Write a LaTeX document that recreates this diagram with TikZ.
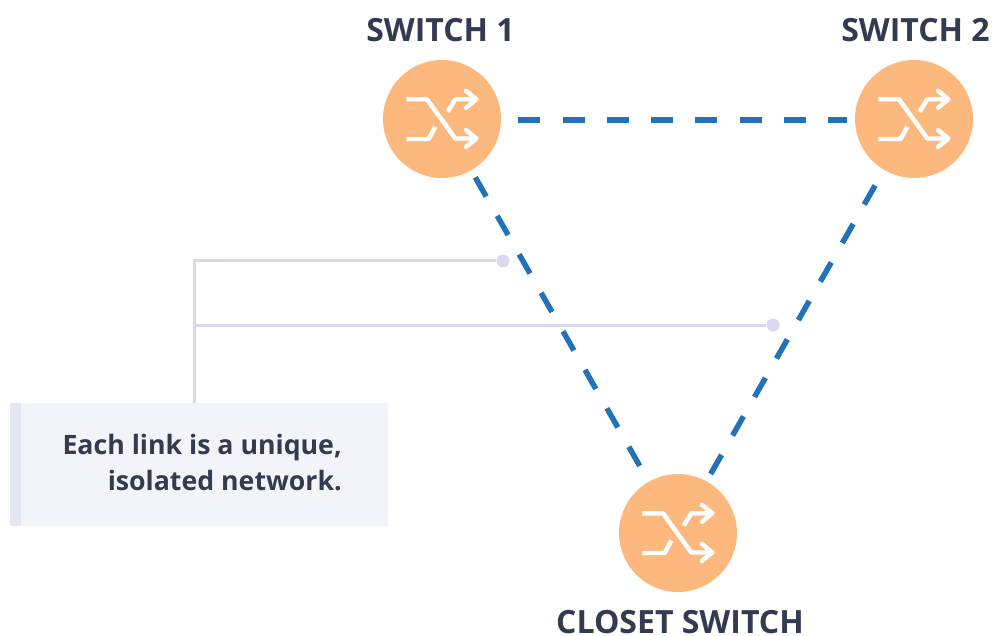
\documentclass[tikz,border=0pt]{standalone}
\usepackage{fontspec}
\setmainfont{Open Sans}
\definecolor{orangefill}{HTML}{FDB97D}
\definecolor{linkblue}{HTML}{2272B9}
\definecolor{leader}{HTML}{D9D8EC}
\definecolor{boxfill}{HTML}{F3F4F9}
\definecolor{boxbar}{HTML}{E4E6F1}
\definecolor{inktext}{HTML}{343A50}
\tikzset{
  x=1pt,y=-1pt,
  switchnode/.style={circle,fill=orangefill,minimum size=118pt,inner sep=0pt,draw=none},
  link/.style={draw=linkblue,line width=5.5pt,dash pattern=on 22pt off 22.3pt},
  leaderline/.style={draw=leader,line width=3pt},
  leaderdot/.style={circle,fill=leader,minimum size=13pt,inner sep=0pt,draw=none},
  lbl/.style={font=\fontsize{32}{38}\selectfont\bfseries,text=inktext,inner sep=0pt},
  icon/.style={draw=white,line width=4.4pt,line cap=round,line join=round},
  switchicon/.pic={
    \draw[icon,line cap=butt] (-35.7,-19.7) -- (-15,-19.7) -- (13.3,19.5) -- (32,19.5);
    \draw[icon,line cap=butt] (-35.7,20) -- (-13.3,20) -- (-6.7,7.7);
    \draw[icon,line cap=butt] (5.7,-7.3) -- (13.3,-19.7) -- (32,-19.7);
    \draw[icon] (24,-28.2) -- (34.3,-19.7) -- (24,-11.2);
    \draw[icon] (24,11) -- (34.3,19.5) -- (24,28);
  }
}
\begin{document}
\begin{tikzpicture}
\useasboundingbox (0,0) rectangle (993,636);
\node[switchnode] (s1) at (442,119) {};
\node[switchnode] (s2) at (914,119) {};
\node[switchnode] (s3) at (678,533) {};
\pic at (s1) {switchicon};
\pic at (s2) {switchicon};
\pic at (s3) {switchicon};
\draw[link,shorten <=17pt,shorten >=8pt] ([yshift=-1.2pt]s1.east) -- ([yshift=-1.2pt]s2.west);
\draw[link,shorten <=8pt,shorten >=14.6pt] (s1) -- (s3);
\draw[link,shorten <=76.5pt,shorten >=65pt] ([xshift=-1pt]s2.center) -- ([xshift=-1pt]s3.center);
\node[lbl,anchor=base] (t1) at (440.5,42) {SWITCH 1};
\node[lbl,anchor=base] (t2) at (915.5,42) {SWITCH 2};
\node[lbl,anchor=base] (t3) at (680,633.5) {CLOSET SWITCH};
\node[draw=none,fill=boxfill,minimum width=378pt,minimum height=123pt,inner sep=0pt,anchor=north west] (box) at (10,403) {};
\fill[boxbar] (box.north west) rectangle ++(11,123);
\node[font=\fontsize{26.7}{36.5}\selectfont\bfseries,text=inktext,align=right,anchor=north east,inner sep=0pt] (txt) at (342,434) {Each link is a unique,\\isolated network.};
\node[leaderdot] (d1) at (503,261) {};
\node[leaderdot] (d2) at (773,325) {};
\coordinate (top) at (194,261);
\coordinate (mid) at (194,325);
\draw[leaderline] (box.north -| top) -- (top) -- (d1);
\draw[leaderline] (mid) -- (d2);
\end{tikzpicture}
\end{document}
